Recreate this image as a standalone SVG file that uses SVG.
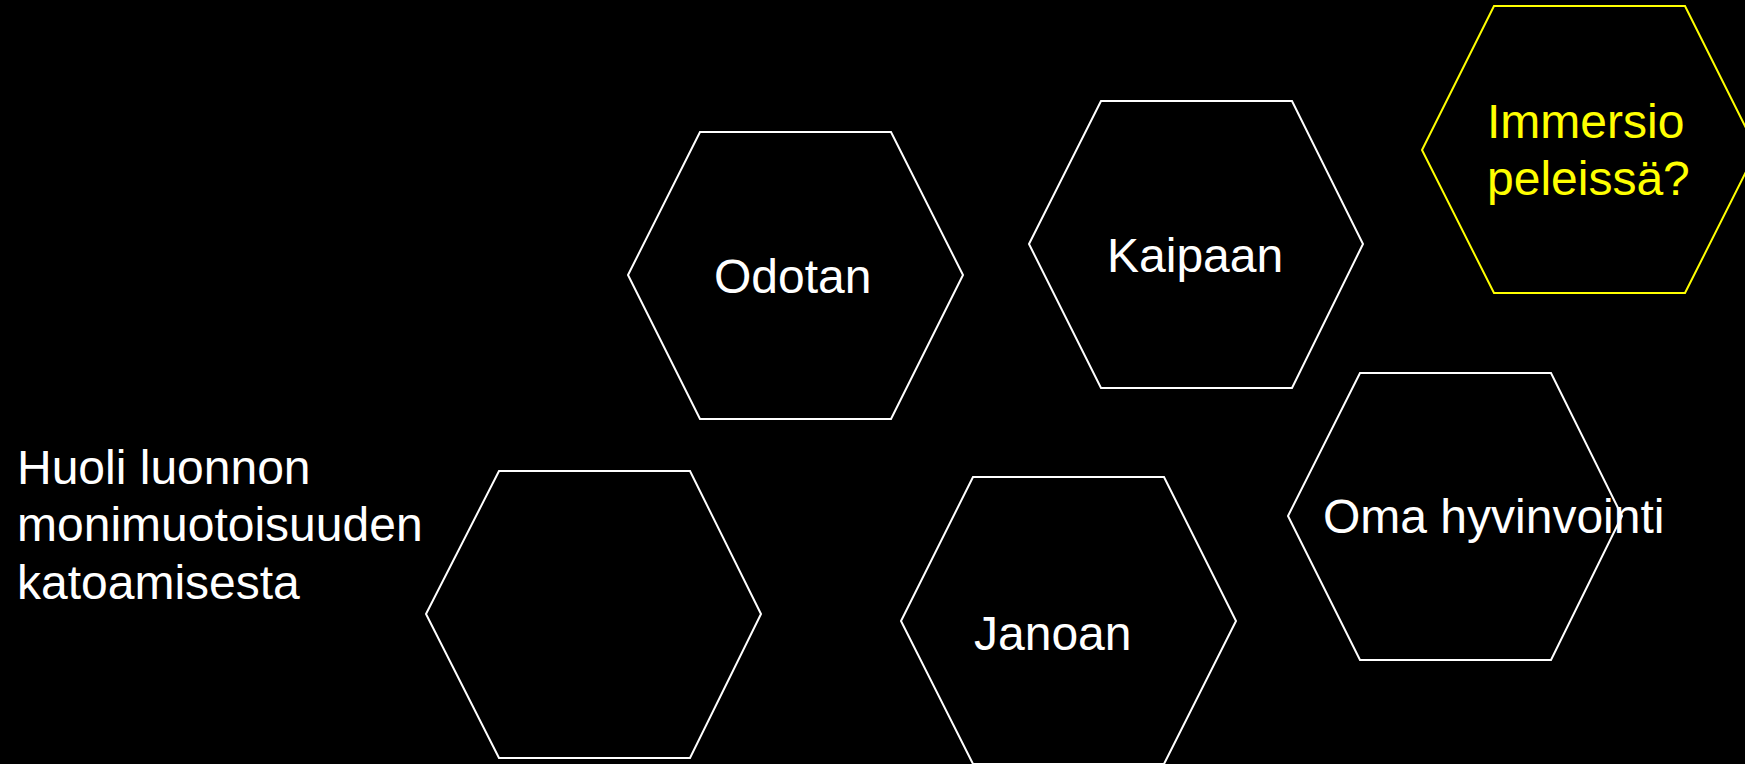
<svg xmlns="http://www.w3.org/2000/svg" width="1745" height="764" viewBox="0 0 1745 764">
<style>
.hex{fill:#000;stroke:#fff;stroke-width:2}
.hexy{fill:#000;stroke:#ff0;stroke-width:2}
.t{font-family:"Liberation Sans",Arial,sans-serif;font-size:48px;fill:#fff}
.ty{font-family:"Liberation Sans",Arial,sans-serif;font-size:48px;fill:#ff0}
</style>
<rect x="0" y="0" width="1745" height="764" fill="#000"/>
<g id="connectors"></g>
<g id="node-odotan">
<polygon class="hex" points="700,132 891,132 963,275 891,419 700,419 628,275"/>
<text class="t" x="714" y="293">Odotan</text>
</g>
<g id="node-kaipaan">
<polygon class="hex" points="1101,101 1292,101 1363,244 1292,388 1101,388 1029,244"/>
<text class="t" x="1107" y="272">Kaipaan</text>
</g>
<g id="node-immersio">
<polygon class="hexy" points="1494,6 1685,6 1757,150 1685,293 1494,293 1422,150"/>
<text class="ty" x="1487" y="137.5">Immersio</text>
<text class="ty" x="1487" y="194.5">peleissä?</text>
</g>
<g id="node-huoli">
<text class="t" x="17" y="483.5">Huoli luonnon</text>
<text class="t" x="17" y="541">monimuotoisuuden</text>
<text class="t" x="17" y="598.5">katoamisesta</text>
</g>
<g id="node-empty">
<polygon class="hex" points="499,471 690,471 761,614 690,758 499,758 426,614"/>
</g>
<g id="node-janoan">
<polygon class="hex" points="973,477 1164,477 1236,621 1164,764 973,764 901,621"/>
<text class="t" x="974" y="650">Janoan</text>
</g>
<g id="node-oma">
<polygon class="hex" points="1360,373 1551,373 1622,516 1551,660 1360,660 1288,516"/>
<text class="t" x="1323" y="533">Oma hyvinvointi</text>
</g>
</svg>
